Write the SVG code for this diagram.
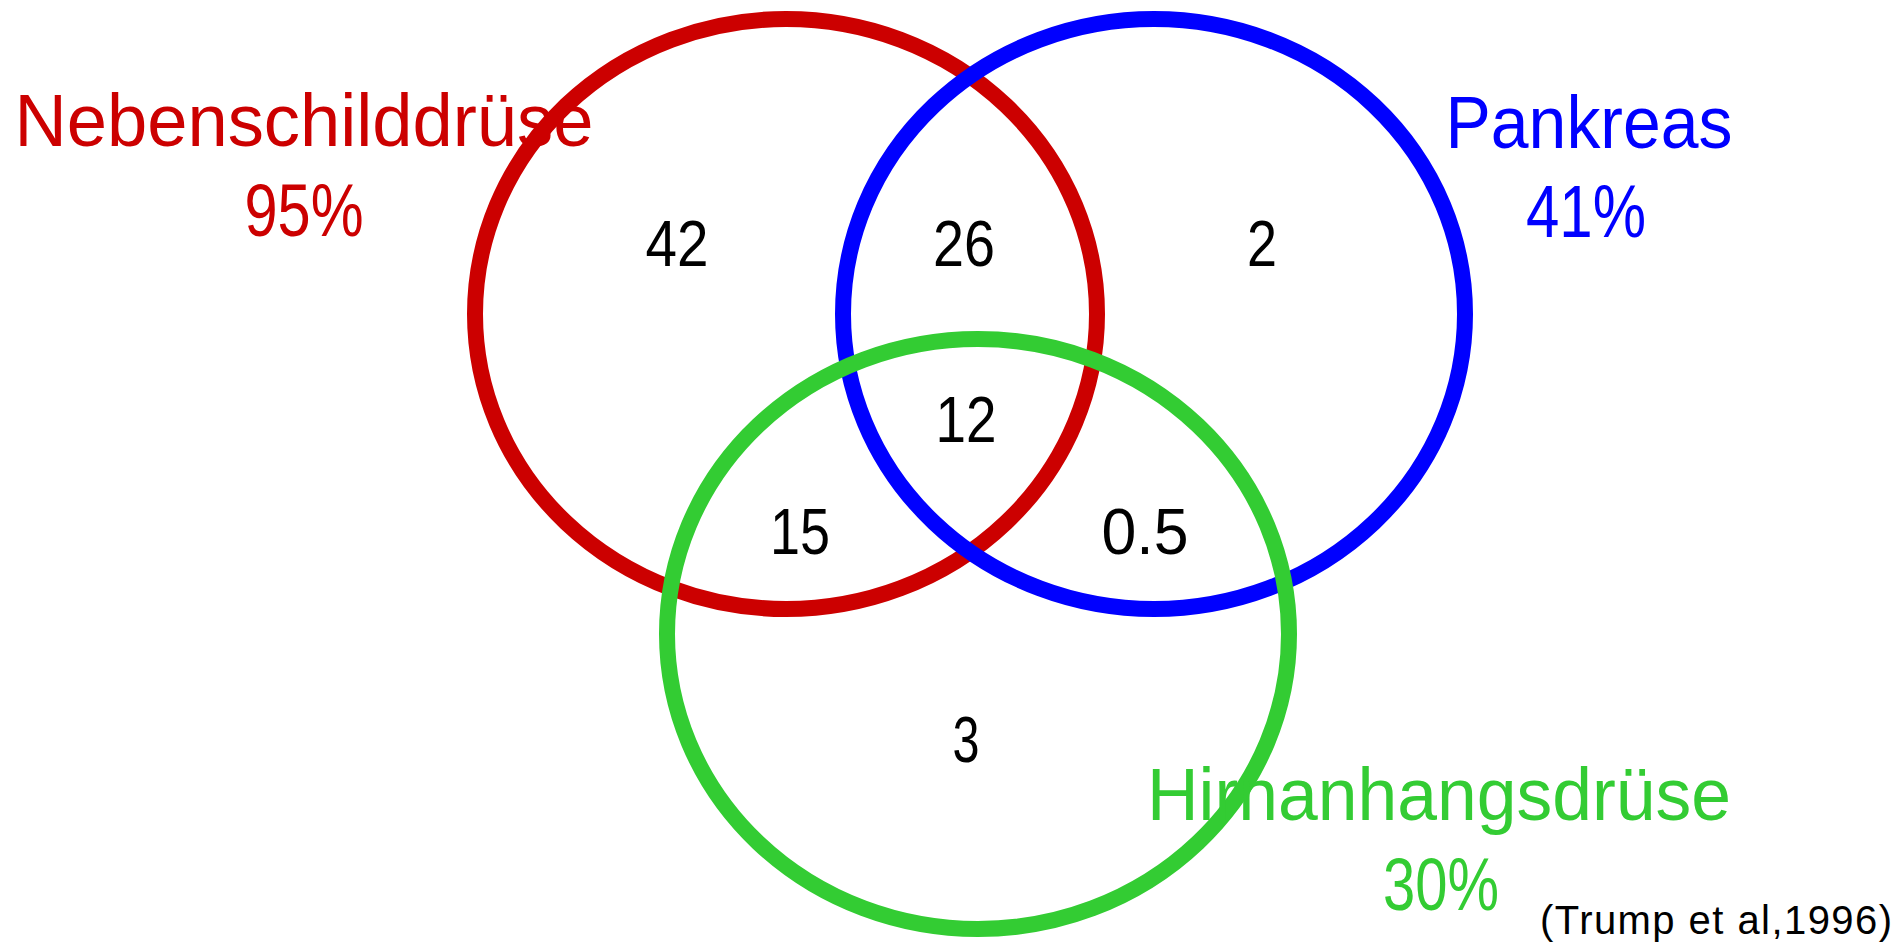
<svg xmlns="http://www.w3.org/2000/svg" width="1899" height="945" viewBox="0 0 1899 945">
<style>
.ring{fill:none;stroke-width:16}
.lbl{font-family:"Liberation Sans",Arial,sans-serif;font-size:74px;text-anchor:middle}
.num{font-family:"Liberation Sans",Arial,sans-serif;font-size:65px;text-anchor:middle;fill:#000}
.cite{font-family:"Liberation Sans",Arial,sans-serif;font-size:40px;fill:#000}
</style>
<rect width="1899" height="945" fill="#fff"/>
<g id="nebenschilddruese">
<ellipse class="ring" cx="786" cy="314" rx="311" ry="295" stroke="#CC0000"/>
<text class="lbl" x="304" y="146" fill="#CC0000" textLength="579" lengthAdjust="spacingAndGlyphs">Nebenschilddrüse</text>
<text class="lbl" x="304" y="236" fill="#CC0000" textLength="119" lengthAdjust="spacingAndGlyphs">95%</text>
</g>
<g id="pankreas">
<ellipse class="ring" cx="1154" cy="314" rx="311" ry="295" stroke="#0000FF"/>
<text class="lbl" x="1589" y="148" fill="#0000FF" textLength="287" lengthAdjust="spacingAndGlyphs">Pankreas</text>
<text class="lbl" x="1586" y="237" fill="#0000FF" textLength="120" lengthAdjust="spacingAndGlyphs">41%</text>
</g>
<g id="hirnanhangsdruese">
<ellipse class="ring" cx="978" cy="634" rx="311" ry="295" stroke="#33CC33"/>
<text class="lbl" x="1439" y="820" fill="#33CC33" textLength="584" lengthAdjust="spacingAndGlyphs">Hirnanhangsdrüse</text>
<text class="lbl" x="1441" y="910" fill="#33CC33" textLength="116" lengthAdjust="spacingAndGlyphs">30%</text>
</g>
<g id="values">
<text class="num" x="677" y="266" textLength="63" lengthAdjust="spacingAndGlyphs">42</text>
<text class="num" x="964" y="266" textLength="62" lengthAdjust="spacingAndGlyphs">26</text>
<text class="num" x="1262" y="266" textLength="30" lengthAdjust="spacingAndGlyphs">2</text>
<text class="num" x="966" y="442" textLength="61" lengthAdjust="spacingAndGlyphs">12</text>
<text class="num" x="800" y="554" textLength="60" lengthAdjust="spacingAndGlyphs">15</text>
<text class="num" x="1145" y="554" textLength="87" lengthAdjust="spacingAndGlyphs">0.5</text>
<text class="num" x="966" y="762" textLength="27" lengthAdjust="spacingAndGlyphs">3</text>
</g>
<g id="connectors"/>
<text class="cite" x="1540" y="934" textLength="352">(Trump et al,1996)</text>
</svg>
